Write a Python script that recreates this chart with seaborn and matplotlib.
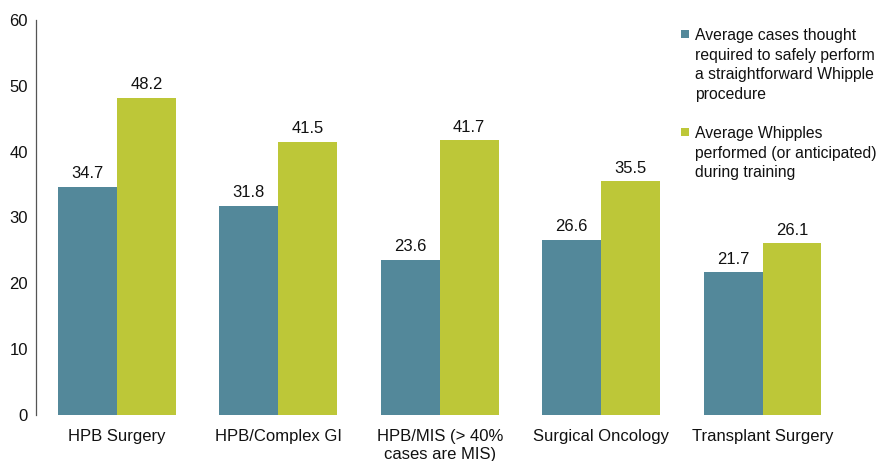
import matplotlib
matplotlib.use("Agg")
import matplotlib.pyplot as plt
import seaborn as sns
import pandas as pd
from matplotlib.patches import Rectangle

categories = ["HPB Surgery", "HPB/Complex GI", "HPB/MIS (> 40%\ncases are MIS)",
              "Surgical Oncology", "Transplant Surgery"]
required = [34.7, 31.8, 23.6, 26.6, 21.7]
performed = [48.2, 41.5, 41.7, 35.5, 26.1]
series_names = ["Average cases thought\nrequired to safely perform\na straightforward Whipple\nprocedure",
                "Average Whipples\nperformed (or anticipated)\nduring training"]
colors = ["#53889A", "#BDC738"]

df = pd.DataFrame({
    "category": categories * 2,
    "value": required + performed,
    "series": [series_names[0]] * len(categories) + [series_names[1]] * len(categories),
})

sns.set_style("white")
plt.rcParams["font.family"] = ["Liberation Sans", "DejaVu Sans"]

W, H = 883, 461
fig = plt.figure(figsize=(W / 100, H / 100), dpi=100)
ax = fig.add_axes([0.041, 0.0998, 0.914, 0.857])
sns.barplot(data=df, x="category", y="value", hue="series", palette=colors,
            width=0.73, saturation=1, ax=ax, legend=False, edgecolor="none")

for cont in ax.containers:
    ax.bar_label(cont, labels=[f"{v:.1f}" for v in cont.datavalues], padding=4,
                 fontsize=12, color="#111111")

ax.set_ylim(0, 60)
ax.set_xlim(-0.5, 4.5)
ax.set_yticks(range(0, 61, 10))
ax.set_xlabel("")
ax.set_ylabel("")
ax.tick_params(axis="both", labelsize=12, colors="#111111", length=0)
ax.tick_params(axis="y", pad=6)
ax.tick_params(axis="x", pad=10)
for lab in ax.get_xticklabels():
    lab.set_linespacing(1.25)
for s in ["top", "right", "bottom"]:
    ax.spines[s].set_visible(False)
ax.spines["left"].set_color("#555555")
ax.spines["left"].set_linewidth(0.9)

# legend drawn in figure pixel coordinates
legend_tops = [28, 126]
for name, col, top in zip(series_names, colors, legend_tops):
    fig.patches.append(Rectangle((681 / W, 1 - (top + 10) / H), 8 / W, 8 / H,
                                 transform=fig.transFigure, facecolor=col,
                                 edgecolor="none"))
    fig.text(695 / W, 1 - top / H, name, ha="left", va="top", fontsize=11.3,
             linespacing=1.38, color="#111111")

fig.savefig("out.png", dpi=100)
